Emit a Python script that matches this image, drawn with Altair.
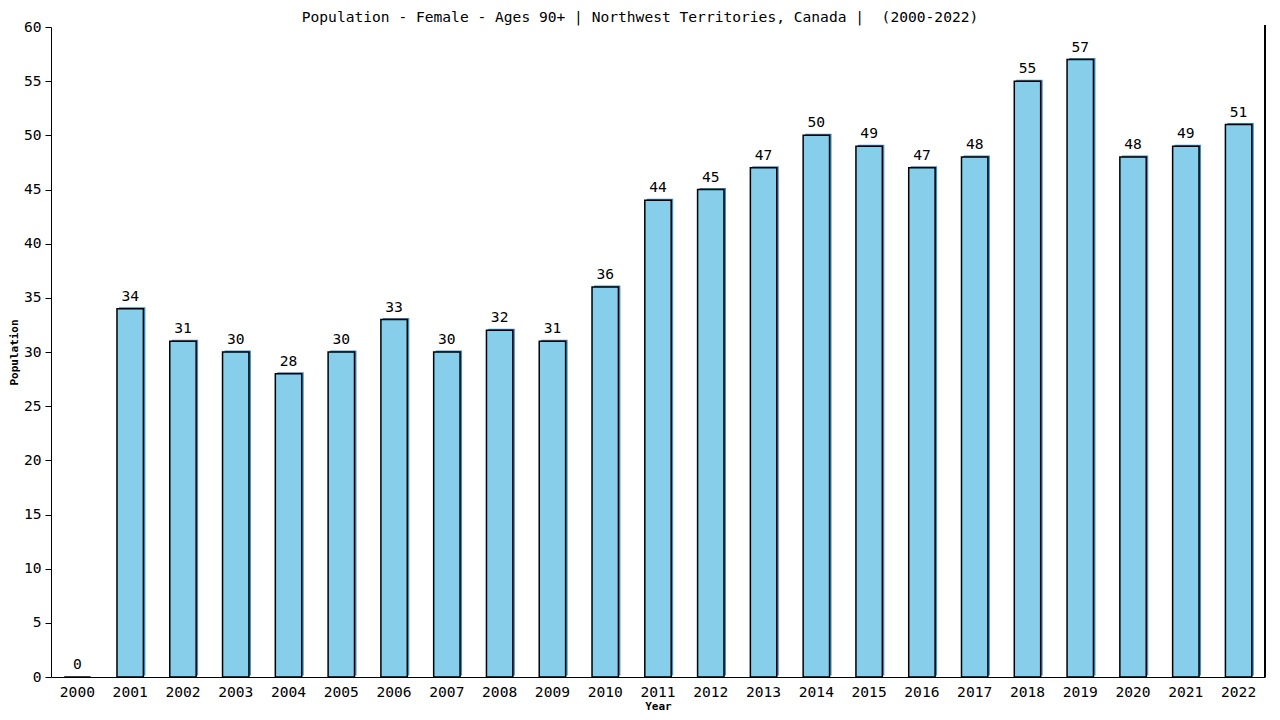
import altair as alt
import pandas as pd

years = [str(y) for y in range(2000, 2023)]
values = [0, 34, 31, 30, 28, 30, 33, 30, 32, 31, 36, 44, 45, 47, 50, 49, 47, 48, 55, 57, 48, 49, 51]

df = pd.DataFrame({"Year": years, "Population": values})

FONT = "DejaVu Sans Mono"
W, H = 1214, 650

x = alt.X("Year:N", title="Year",
          scale=alt.Scale(paddingInner=0.5, paddingOuter=0.25),
          axis=alt.Axis(labelAngle=0, ticks=False, labelPadding=7, domainColor="black",
                        labelFont=FONT, labelFontSize=14.6, labelColor="black",
                        titleFont=FONT, titleFontSize=11, titleFontWeight="bold",
                        titleColor="black", titlePadding=2))
y = alt.Y("Population:Q", title="Population",
          scale=alt.Scale(domain=[0, 60], nice=False),
          axis=alt.Axis(values=list(range(0, 61, 5)), grid=False, tickSize=6, tickColor="black",
                        domainColor="black", labelPadding=4,
                        labelFont=FONT, labelFontSize=14.6, labelColor="black",
                        titleFont=FONT, titleFontSize=11, titleFontWeight="bold",
                        titleColor="black", titleX=-36.5, titleY=H / 2, titleAngle=-90,
                        titleBaseline="middle"))

base = alt.Chart(df)

shadow = base.mark_bar(color="#3d8fd0", xOffset=2, yOffset=-1.5).encode(x=x, y=y)
bars = base.mark_bar(fill="#87CEEB", stroke="black", strokeWidth=1.5).encode(x=x, y=y)
labels = base.mark_text(font=FONT, fontSize=14.6, color="black", baseline="bottom", dy=-5).encode(
    x=x, y=y, text="Population:Q")
border = alt.Chart(df).mark_rule(color="black", strokeWidth=1.5).encode(
    x=alt.value(W), y=alt.value(-2), y2=alt.value(H))

chart = alt.layer(shadow, bars, labels, border).properties(
    width=W, height=H,
    view=alt.ViewBackground(stroke="transparent", strokeWidth=0),
    title=alt.TitleParams(
        "Population - Female - Ages 90+ | Northwest Territories, Canada |\u00a0 (2000-2022)",
        font=FONT, fontSize=14.6, fontWeight="normal", color="black",
        anchor="middle", dx=-18, dy=14, offset=8),
    autosize=alt.AutoSizeParams(type="none"),
    padding={"left": 43, "top": 19, "right": 7, "bottom": 35},
).configure_view(stroke="transparent", strokeWidth=0).configure(background="white")

chart.save("out.html", embed_options={"renderer": "svg", "actions": False})
